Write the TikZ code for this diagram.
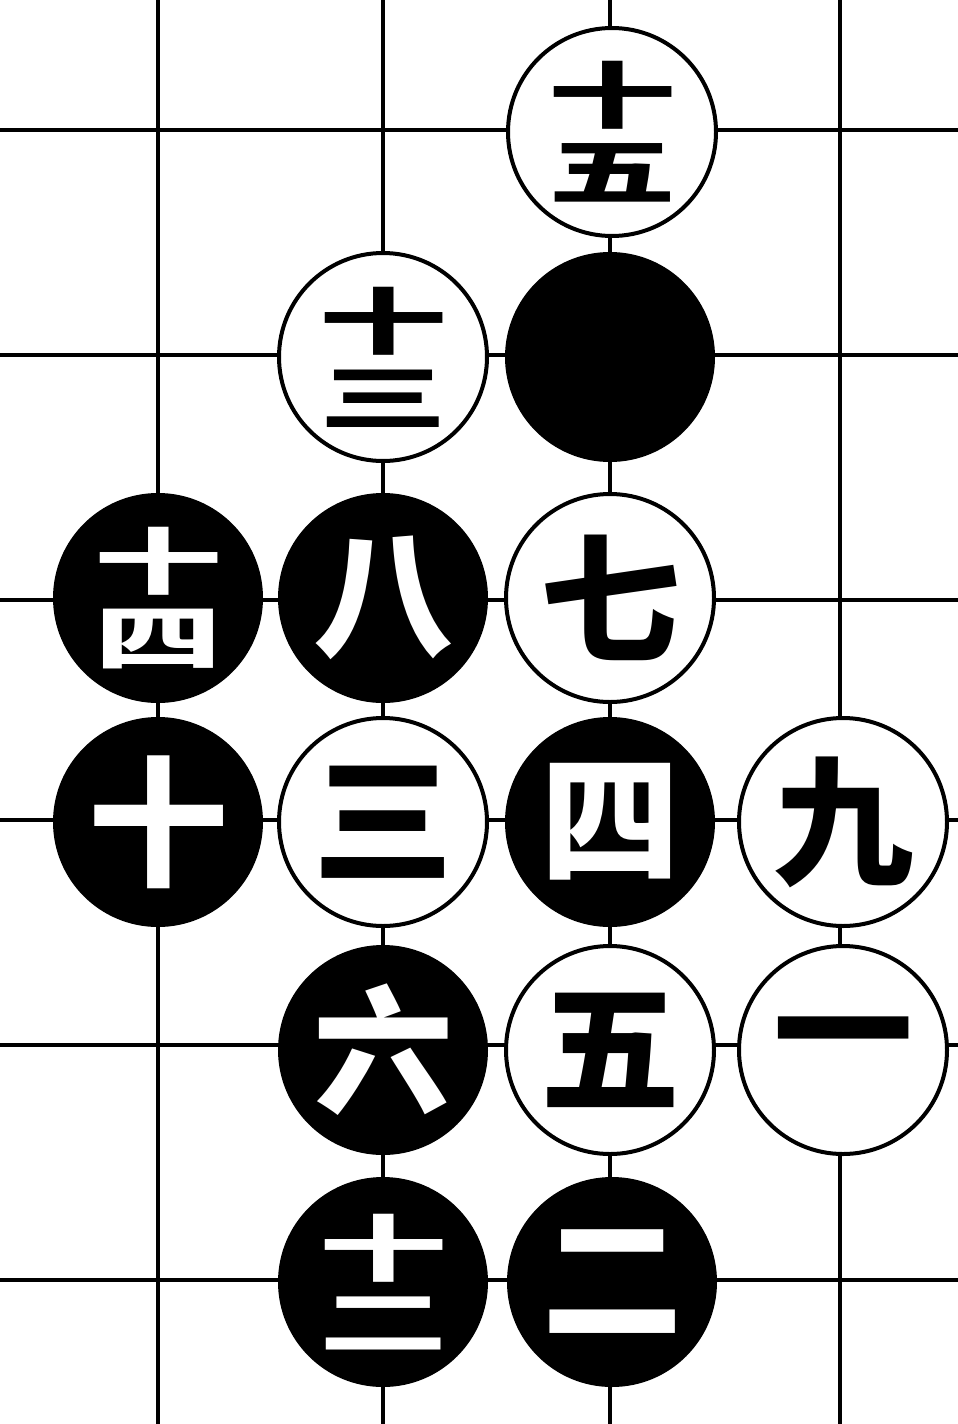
\documentclass[tikz,border=0pt]{standalone}
\usepackage{fontspec}
\usepackage{graphicx}
\newfontfamily\cjk{Noto Sans CJK SC}
\newcommand\stk[2]{\scalebox{1}[0.56]{\fontsize{64}{70}\selectfont\shortstack{#1\\[10pt]#2}}}
\begin{document}
\begin{tikzpicture}[x=0.5pt,y=-0.5pt,
  gridline/.style={line width=2.2pt,black},
  stone/.style={circle,minimum size=104pt,inner sep=0pt,align=center,
    font=\cjk\bfseries\fontsize{70}{70}\selectfont},
  wst/.style={stone,draw=black,line width=2pt,fill=white,text=black},
  bst/.style={stone,draw=black,line width=1pt,fill=black,text=white}]
\useasboundingbox (0,0) rectangle (958,1424);
\fill[white] (0,0) rectangle (958,1424);
\foreach \x in {158,383,610,840} \draw[gridline] (\x,0) -- (\x,1424);
\foreach \y in {130,355,600,820,1045,1280} \draw[gridline] (0,\y) -- (958,\y);
% stones
\node[wst] (s15) at (612,132) {\stk{十}{五}};
\node[wst] (s13) at (383,357) {\stk{十}{三}};
\node[bst] (s11) at (610,357) {};
\node[bst] (s14) at (158,598) {\stk{十}{四}};
\node[bst] (s8) at (383,598) {八};
\node[wst] (s7) at (610,598) {七};
\node[bst] (s10) at (158,822) {十};
\node[wst] (s3) at (383,822) {三};
\node[bst] (s4) at (610,822) {四};
\node[wst] (s9) at (843,822) {九};
\node[bst] (s6) at (383,1050) {六};
\node[wst] (s5) at (610,1050) {五};
\node[wst] (s1) at (843,1050) {一};
\node[bst] (s12) at (383,1282) {\stk{十}{二}};
\node[bst] (s2) at (612,1282) {二};
\end{tikzpicture}
\end{document}
